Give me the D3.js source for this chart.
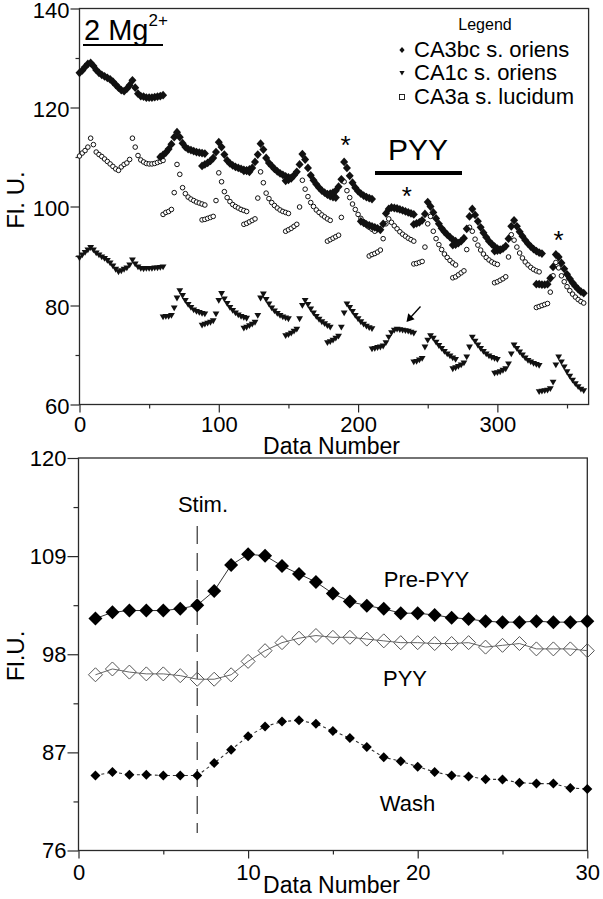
<!DOCTYPE html>
<html><head><meta charset="utf-8">
<script src="https://cdn.jsdelivr.net/npm/d3@7"></script>
<style>
body{margin:0;background:#fff}
svg{display:block;font-family:"Liberation Sans",Arial,Helvetica,sans-serif}
</style>
</head><body>
<svg id="c" width="603" height="899"></svg>
<script>
// ---------- TOP PANEL DATA (segments sampled every 2 data numbers) ----------
const sampleStep = 2;
const ca3bcStarts = [0, 58, 88, 118, 148, 178, 202, 240, 268, 298, 328];
const ca3bcValues = [
  [127.0,127.5,128.2,128.8,129.0,128.4,127.6,127.0,126.6,126.3,126.0,125.7,125.2,124.6,124.0,123.5,123.3,123.8,124.5,125.5,124.0,122.8,122.3,122.2,122.0,122.0,122.0,122.1,122.2,122.3,122.5],
  [110.0,110.4,110.9,111.6,112.6,114.0,115.0,114.0,112.8,112.0,111.6,111.4,111.2,111.0,110.9,110.8,110.7],
  [108.2,108.5,108.8,109.2,109.8,111.0,113.0,112.0,110.5,109.3,108.7,108.3,108.0,107.8,107.6,107.4,107.2,107.0],
  [107.2,107.3,107.5,107.8,109.0,110.5,112.7,111.5,109.8,108.8,108.2,107.6,107.1,106.7,106.4,106.1,105.9,105.7],
  [105.2,105.4,105.8,106.3,107.0,108.5,110.6,109.5,107.8,106.3,105.3,104.5,103.8,103.2,102.8,102.4,102.1,101.9,101.8],
  [102.5,102.6,102.8,103.2,104.0,105.5,109.0,107.8,106.2,104.8,103.8,103.1,102.6,102.2,101.9,101.7,101.5],
  [97.0,96.7,96.4,96.2,96.0,95.8,95.6,95.3,96.5,98.6,99.5,99.8,99.7,99.6,99.4,99.2,99.0,98.8,98.6,98.4],
  [96.4,96.6,96.8,97.2,98.5,100.9,100.0,98.8,97.6,96.5,95.6,94.9,94.3,93.8,93.3,93.0],
  [92.2,92.3,92.6,93.0,93.6,95.5,98.0,99.5,98.3,97.0,95.8,94.7,93.8,93.0,92.4,91.9,91.5,91.2],
  [91.0,91.1,91.3,91.5,92.0,93.5,96.0,97.2,96.0,94.9,94.0,93.2,92.5,91.9,91.4,91.0,90.7,90.5],
  [84.3,84.3,84.2,84.2,84.3,85.5,87.8,90.3,89.8,88.6,87.4,86.3,85.4,84.6,83.9,83.3,82.8,82.5]
];
const ca1cStarts = [0, 60, 88, 118, 148, 178, 210, 240, 268, 298, 330];
const ca1cValues = [
  [89.6,90.2,90.7,91.2,91.7,91.2,90.6,90.2,89.8,89.5,89.1,88.6,88.0,87.3,86.8,87.0,87.3,87.6,88.2,89.2,88.4,87.8,87.5,87.4,87.5,87.5,87.5,87.6,87.6,87.7,87.8],
  [77.7,77.8,77.8,78.0,79.5,81.5,83.0,82.0,81.0,80.2,79.6,79.1,78.8,78.6,78.4,78.3],
  [76.0,76.2,76.4,76.6,76.9,78.3,81.0,82.4,81.3,80.4,79.6,79.0,78.5,78.1,77.8,77.6,77.4],
  [75.4,75.6,75.9,76.2,76.6,78.0,81.5,82.3,81.2,80.3,79.5,78.9,78.4,78.0,77.7,77.5,77.3],
  [73.9,74.1,74.4,74.8,75.2,77.3,80.0,81.0,80.2,79.3,78.5,77.8,77.2,76.7,76.3,75.9,75.6],
  [72.5,72.7,73.0,73.4,73.8,75.6,78.5,80.3,79.6,78.8,78.0,77.3,76.7,76.2,75.8,75.5,75.3],
  [71.2,71.3,71.5,71.6,71.8,72.5,73.6,74.5,75.0,75.2,75.1,75.0,74.9,74.8,74.6,74.4],
  [68.6,68.7,69.0,69.3,71.6,73.0,73.9,73.4,72.6,71.9,71.3,70.7,70.2,69.8,69.4,69.1],
  [67.2,67.4,67.7,68.0,68.4,69.6,71.6,73.6,72.8,72.0,71.3,70.7,70.2,69.8,69.5,69.3,69.1],
  [66.3,66.4,66.6,66.9,67.2,68.2,70.2,72.0,71.3,70.6,70.0,69.4,68.9,68.6,68.3,68.1,67.9],
  [62.6,62.7,62.8,62.9,63.2,64.5,68.0,69.6,68.6,67.6,66.6,65.7,64.9,64.2,63.6,63.1,62.8]
];
const ca3aStarts = [0, 60, 88, 118, 148, 178, 208, 240, 268, 298, 328];
const ca3aValues = [
  [110.2,110.8,111.3,112.0,113.8,112.5,111.0,110.5,110.1,109.6,109.1,108.6,108.1,107.6,107.3,108.0,108.5,108.8,109.5,113.8,112.0,110.3,109.4,109.0,108.7,108.6,108.6,108.7,108.9,109.1,109.3],
  [98.4,98.8,99.0,99.4,102.8,108.5,106.5,103.8,102.6,101.9,101.5,101.2,100.9,100.7,100.5,100.3],
  [97.3,97.4,97.6,97.8,98.0,101.2,106.8,105.0,103.0,101.8,101.0,100.4,100.0,99.7,99.4,99.2,99.0],
  [96.4,96.6,96.9,97.2,97.5,101.7,107.0,104.8,102.7,101.6,100.8,100.2,99.7,99.3,99.0,98.8,98.6],
  [95.0,95.3,95.6,96.0,96.4,99.9,105.3,103.5,102.0,100.8,100.0,99.3,98.8,98.3,97.9,97.5,97.2],
  [93.0,93.3,93.6,93.9,94.2,97.8,105.0,103.2,101.8,100.5,99.4,98.4,97.6,96.9,96.3,95.8,95.4,95.0],
  [90.0,90.3,90.5,90.8,91.2,93.5,96.5,97.5,96.8,96.1,95.5,94.9,94.4,94.0,93.6,93.3,93.0],
  [88.4,88.5,88.7,88.9,91.8,96.5,98.0,95.0,93.5,92.3,91.3,90.4,89.7,89.1,88.6,88.2],
  [85.6,85.8,86.2,86.6,87.0,91.3,95.8,95.0,93.4,92.2,91.2,90.4,89.7,89.2,88.8,88.5,88.3],
  [84.6,84.8,85.1,85.4,85.8,89.8,94.3,93.2,91.8,90.6,89.6,88.8,88.2,87.7,87.3,87.0,86.8],
  [79.6,79.8,80.0,80.2,80.4,82.7,86.0,88.7,87.6,86.0,84.8,83.8,83.0,82.3,81.7,81.2,80.8,80.5]
];
const legendLabels = ["CA3bc s. oriens", "CA1c s. oriens", "CA3a s. lucidum"];
const topXTicks = [0, 100, 200, 300];
const topXMinor = [50, 150, 250, 350];
const topYTicks = [60, 80, 100, 120, 140];
const topYMinor = [70, 90, 110, 130];
const asteriskPoints = [[191, 113.7], [235, 103.3], [344, 94.5]];

// ---------- BOTTOM PANEL DATA ----------
const dataNumber = [1,2,3,4,5,6,7,8,9,10,11,12,13,14,15,16,17,18,19,20,21,22,23,24,25,26,27,28,29,30];
const prePYY = [102.0,102.7,102.9,102.9,102.9,103.1,103.5,105.1,108.0,109.2,109.05,107.9,107.0,106.1,104.8,103.9,103.45,103.1,102.6,102.6,102.4,102.1,101.95,101.7,101.6,101.6,101.7,101.6,101.6,101.7];
const pyy = [95.7,96.35,96.0,95.8,95.8,95.6,95.2,95.2,95.7,97.2,98.4,99.3,99.8,100.1,99.9,99.9,99.7,99.5,99.3,99.3,99.2,99.2,99.3,98.8,99.0,99.2,98.6,98.6,98.6,98.4];
const wash = [84.4,84.8,84.5,84.5,84.4,84.4,84.4,85.8,87.3,88.8,89.9,90.45,90.6,90.2,89.4,88.6,87.6,86.45,86.0,85.4,84.8,84.4,84.3,84.0,83.95,83.6,83.5,83.5,83.0,82.9];
const botXTicks = [0, 10, 20, 30];
const botXMinor = [5, 15, 25];
const botYTicks = [76, 87, 98, 109, 120];
const botYMinor = [81.5, 92.5, 103.5, 114.5];
const stimAt = 7;

// ---------- DRAW ----------
const svg = d3.select('#c');
const INK = '#111';
const AX = '#2a2a2a';

function segPoints(starts, values) {
  const pts = [];
  starts.forEach((s, i) => values[i].forEach((v, j) => pts.push([s + j * sampleStep, v])));
  return pts;
}

// ===== Top panel =====
const tx = d3.scaleLinear().domain([0, 365.5]).range([79.5, 588.6]);
const ty = d3.scaleLinear().domain([60, 140]).range([404.5, 8.5]);
const topG = svg.append('g');

function styleAxis(g, size) {
  g.selectAll('text').attr('font-size', size).attr('fill', '#000')
    .attr('font-family', '"Liberation Sans",Arial,sans-serif');
  g.selectAll('line').attr('stroke', AX).attr('stroke-width', 1.2);
  g.select('.domain').remove();
}

topG.append('g').attr('transform', `translate(0,${ty(60)})`)
  .call(d3.axisBottom(tx).tickValues(topXTicks).tickSize(8).tickPadding(4).tickFormat(d3.format('d')))
  .call(g => styleAxis(g, 22));
topG.append('g').attr('transform', `translate(0,${ty(60)})`)
  .call(d3.axisBottom(tx).tickValues(topXMinor).tickSize(4).tickFormat(''))
  .call(g => styleAxis(g, 0));
topG.append('g').attr('transform', `translate(${tx(0)},0)`)
  .call(d3.axisLeft(ty).tickValues(topYTicks).tickSize(9).tickPadding(1).tickFormat(d3.format('d')))
  .call(g => styleAxis(g, 22))
  .call(g => g.selectAll('text').attr('dy', '0.4em'));
topG.append('g').attr('transform', `translate(${tx(0)},0)`)
  .call(d3.axisLeft(ty).tickValues(topYMinor).tickSize(4).tickFormat(''))
  .call(g => styleAxis(g, 0));

// frame
topG.append('rect').attr('x', tx(0)).attr('y', ty(140)).attr('width', tx(365.5) - tx(0)).attr('height', ty(60) - ty(140))
  .attr('fill', 'none').attr('stroke', AX).attr('stroke-width', 1.3);

// series markers
const diamondTop = 'M0,-4.4L4.0,0L0,4.4L-4.0,0Z';
const triTop = 'M-3.4,-2.5L3.4,-2.5L0,3.3Z';
topG.append('g').selectAll('circle').data(segPoints(ca3aStarts, ca3aValues)).join('circle')
  .attr('cx', d => tx(d[0])).attr('cy', d => ty(d[1])).attr('r', 2.3)
  .attr('fill', '#fff').attr('stroke', INK).attr('stroke-width', 1);
topG.append('g').selectAll('path').data(segPoints(ca3bcStarts, ca3bcValues)).join('path')
  .attr('d', diamondTop).attr('transform', d => `translate(${tx(d[0])},${ty(d[1])})`).attr('fill', INK);
topG.append('g').selectAll('path').data(segPoints(ca1cStarts, ca1cValues)).join('path')
  .attr('d', triTop).attr('transform', d => `translate(${tx(d[0])},${ty(d[1])})`).attr('fill', INK);

// 2 Mg2+ label
const mg = topG.append('text').attr('x', 84).attr('y', 40).attr('font-size', 29).attr('fill', '#000');
mg.append('tspan').text('2 Mg');
mg.append('tspan').attr('font-size', 17).attr('dy', -14).text('2+');
topG.append('line').attr('x1', 83).attr('x2', 163).attr('y1', 45).attr('y2', 45).attr('stroke', '#000').attr('stroke-width', 2);

// legend
topG.append('text').attr('x', 485).attr('y', 30).attr('text-anchor', 'middle').attr('font-size', 16).text('Legend');
const legY = [57, 80, 104];
const legSyms = ['M0,-3L2.6,0L0,3L-2.6,0Z', 'M-2.6,-2L2.6,-2L0,2.6Z', null];
legendLabels.forEach((lab, i) => {
  topG.append('text').attr('x', 414).attr('y', legY[i]).attr('font-size', 22).text(lab);
  if (legSyms[i]) {
    topG.append('path').attr('d', legSyms[i]).attr('transform', `translate(402,${legY[i] - 7})`).attr('fill', INK);
  } else {
    topG.append('rect').attr('x', 399.5).attr('y', legY[i] - 9.5).attr('width', 5).attr('height', 5)
      .attr('fill', '#fff').attr('stroke', INK).attr('stroke-width', 0.9);
  }
});

// PYY annotation
topG.append('text').attr('x', 418).attr('y', 160).attr('text-anchor', 'middle').attr('font-size', 30).text('PYY');
topG.append('rect').attr('x', 375).attr('y', 171).attr('width', 87).attr('height', 4).attr('fill', '#000');

// asterisks
asteriskPoints.forEach(p => {
  topG.append('text').attr('x', tx(p[0])).attr('y', ty(p[1]) + 15).attr('text-anchor', 'middle')
    .attr('font-size', 26).text('*');
});

// arrow
topG.append('line').attr('x1', 420.5).attr('y1', 306.5).attr('x2', 410).attr('y2', 318).attr('stroke', '#000').attr('stroke-width', 1.3);
topG.append('path').attr('d', 'M406.5,322 L408.2,313.2 L414.6,319.2 Z').attr('fill', '#000');

// axis titles
topG.append('text').attr('x', 331.5).attr('y', 454).attr('text-anchor', 'middle').attr('font-size', 23).text('Data Number');
topG.append('text').attr('transform', 'translate(24,200) rotate(-90)').attr('text-anchor', 'middle').attr('font-size', 24).text('Fl. U.');

// ===== Bottom panel =====
const bx = d3.scaleLinear().domain([0, 30]).range([78.5, 587.3]);
const by = d3.scaleLinear().domain([76, 120]).range([850.5, 458]);
const botG = svg.append('g');

botG.append('g').attr('transform', `translate(0,${by(76)})`)
  .call(d3.axisBottom(bx).tickValues(botXTicks).tickSize(8).tickPadding(6).tickFormat(d3.format('d')))
  .call(g => styleAxis(g, 22));
botG.append('g').attr('transform', `translate(0,${by(76)})`)
  .call(d3.axisBottom(bx).tickValues(botXMinor).tickSize(4).tickFormat(''))
  .call(g => styleAxis(g, 0));
botG.append('g').attr('transform', `translate(${bx(0)},0)`)
  .call(d3.axisLeft(by).tickValues(botYTicks).tickSize(11).tickPadding(1).tickFormat(d3.format('d')))
  .call(g => styleAxis(g, 22));
botG.append('g').attr('transform', `translate(${bx(0)},0)`)
  .call(d3.axisLeft(by).tickValues(botYMinor).tickSize(5).tickFormat(''))
  .call(g => styleAxis(g, 0));
botG.append('rect').attr('x', bx(0)).attr('y', by(120)).attr('width', bx(30) - bx(0)).attr('height', by(76) - by(120))
  .attr('fill', 'none').attr('stroke', AX).attr('stroke-width', 1.3);

// stim line
botG.append('line').attr('x1', bx(stimAt)).attr('x2', bx(stimAt)).attr('y1', 526).attr('y2', 833)
  .attr('stroke', '#333').attr('stroke-width', 1.2).attr('stroke-dasharray', '18,9');

const line = d3.line().x((d, i) => bx(dataNumber[i])).y(d => by(d));
botG.append('path').datum(prePYY).attr('d', line).attr('fill', 'none').attr('stroke', '#333').attr('stroke-width', 1);
botG.append('path').datum(pyy).attr('d', line).attr('fill', 'none').attr('stroke', '#666').attr('stroke-width', 1);
botG.append('path').datum(wash).attr('d', line).attr('fill', 'none').attr('stroke', '#333').attr('stroke-width', 1.1).attr('stroke-dasharray', '3,3');

const dBig = 'M0,-7L7,0L0,7L-7,0Z';
const dSmall = 'M0,-5L5,0L0,5L-5,0Z';
botG.append('g').selectAll('path').data(pyy).join('path').attr('d', dBig)
  .attr('transform', (d, i) => `translate(${bx(dataNumber[i])},${by(d)})`)
  .attr('fill', 'none').attr('stroke', '#555').attr('stroke-width', 1);
botG.append('g').selectAll('path').data(prePYY).join('path').attr('d', dBig)
  .attr('transform', (d, i) => `translate(${bx(dataNumber[i])},${by(d)})`).attr('fill', '#000');
botG.append('g').selectAll('path').data(wash).join('path').attr('d', dSmall)
  .attr('transform', (d, i) => `translate(${bx(dataNumber[i])},${by(d)})`).attr('fill', '#000');

botG.append('text').attr('x', 203).attr('y', 512).attr('text-anchor', 'middle').attr('font-size', 22).text('Stim.');
botG.append('text').attr('x', 426.5).attr('y', 587).attr('text-anchor', 'middle').attr('font-size', 22).text('Pre-PYY');
botG.append('text').attr('x', 405).attr('y', 686).attr('text-anchor', 'middle').attr('font-size', 22).text('PYY');
botG.append('text').attr('x', 407.5).attr('y', 811).attr('text-anchor', 'middle').attr('font-size', 22).text('Wash');
botG.append('text').attr('x', 331.5).attr('y', 893).attr('text-anchor', 'middle').attr('font-size', 23).text('Data Number');
botG.append('text').attr('transform', 'translate(24,656) rotate(-90)').attr('text-anchor', 'middle').attr('font-size', 24).text('Fl.U.');
</script>
</body></html>
